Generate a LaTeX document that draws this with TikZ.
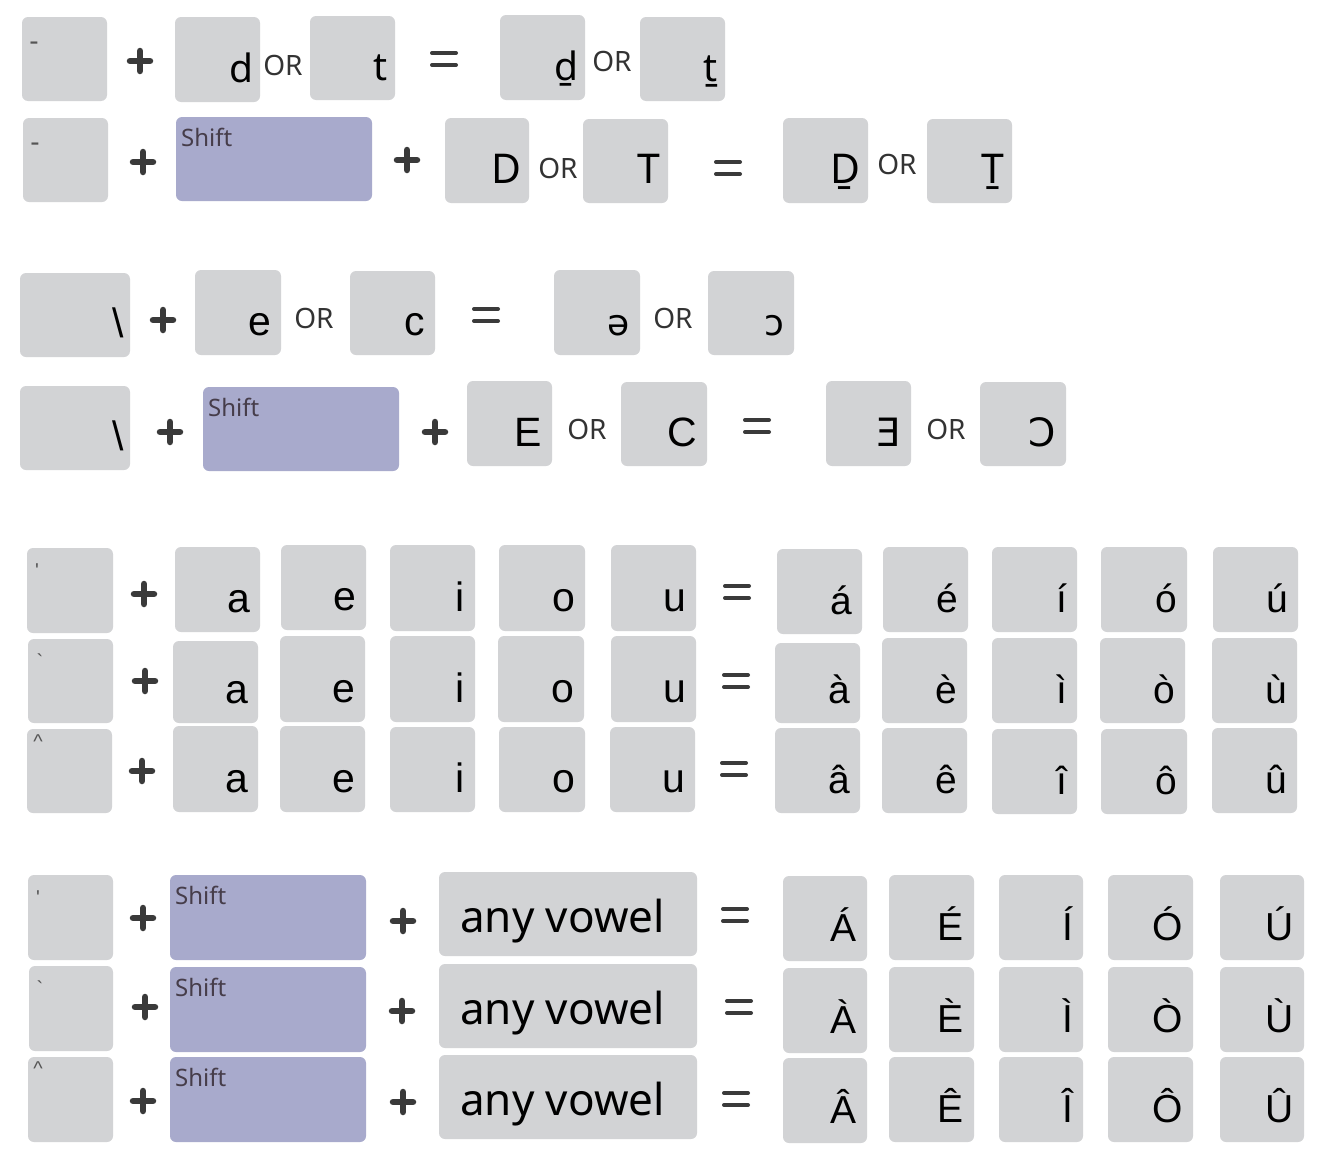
\documentclass[tikz,border=0pt]{standalone}
\usepackage{fontspec}
\setmainfont{Noto Sans}
\newfontfamily\arialf{Liberation Sans}
\newfontfamily\dejavuf{DejaVu Sans}
\definecolor{keygray}{HTML}{D2D3D5}
\definecolor{shiftblue}{HTML}{A8AACC}
\definecolor{symgray}{HTML}{3A3A3A}
\definecolor{ortext}{HTML}{333333}
\definecolor{shifttext}{HTML}{463D4A}
\definecolor{smalltext}{HTML}{555555}

\tikzset{
  keybox/.style={fill=keygray, rounded corners=6pt, inner sep=0pt, outer sep=0pt},
  shiftbox/.style={fill=shiftblue, rounded corners=6pt, inner sep=0pt, outer sep=0pt},
  keylabel/.style={inner sep=0pt, outer sep=0pt, text=black, anchor=base east},
  fA/.style={font=\fontsize{39}{44}\selectfont, xshift=3pt},
  fB/.style={font=\fontsize{41}{46}\selectfont, xshift=2pt},
  fC/.style={font=\arialf\fontsize{41}{46}\selectfont},
  fD/.style={font=\arialf\fontsize{39}{44}\selectfont},
  fE/.style={font=\arialf\fontsize{39}{44}\selectfont},
  fF/.style={font=\dejavuf\fontsize{36}{40}\selectfont},
  fG/.style={font=\dejavuf\fontsize{39}{44}\selectfont},
  ortextstyle/.style={inner sep=0pt, text=ortext, font=\fontsize{28}{32}\selectfont},
  shiftlabel/.style={inner sep=0pt, text=shifttext, anchor=base west, font=\fontsize{24}{28}\selectfont},
  smalllab/.style={inner sep=0pt, text=smalltext, anchor=base, font=\arialf\fontsize{20}{24}\selectfont},
  dashlab/.style={smalllab, font=\arialf\fontsize{28}{32}\selectfont},
  vowelstyle/.style={inner sep=0pt, text=black, anchor=base west, font=\fontsize{44}{50}\selectfont},
  plusline/.style={draw=symgray, line width=6.5pt, line cap=round},
  eqline/.style={draw=symgray, line width=4pt, line cap=round},
}

% key box without main label: name, x1, y1, x2, y2
\newcommand\kbox[5]{%
  \node[keybox, anchor=north west, minimum width={(#4)-(#2)}, minimum height={(#5)-(#3)}] (#1) at (#2,#3) {};%
}
% key with label at bottom right: [style] name, x1, y1, x2, y2, label
\newcommand\kb[7][]{%
  \kbox{#2}{#3}{#4}{#5}{#6}%
  \node[keylabel, #1] (#2t) at ([shift={(-10pt,20pt)}]#2.south east) {#7};%
}
% shift key: name, x1, y1, x2, y2
\newcommand\shiftkey[5]{%
  \node[shiftbox, anchor=north west, minimum width={(#4)-(#2)}, minimum height={(#5)-(#3)}] (#1) at (#2,#3) {};%
  \node[shiftlabel] (#1t) at ([shift={(5pt,-29pt)}]#1.north west) {Shift};%
}
% plus sign: name, x, y
\newcommand\plusat[3]{%
  \coordinate (#1) at (#2,#3);%
  \draw[plusline] ([xshift=-10pt]#1) -- ([xshift=10pt]#1) ([yshift=-10pt]#1) -- ([yshift=10pt]#1);%
}
% equals sign: name, x, y
\newcommand\eqat[3]{%
  \coordinate (#1) at (#2,#3);%
  \draw[eqline] ([shift={(-12pt,6pt)}]#1) -- ([shift={(12pt,6pt)}]#1)
                ([shift={(-12pt,-6pt)}]#1) -- ([shift={(12pt,-6pt)}]#1);%
}
% OR text: name, x, y
\newcommand\orat[3]{\node[ortextstyle] (#1) at (#2,#3) {OR};}

\begin{document}
\begin{tikzpicture}[x=1pt, y=-1pt]
\useasboundingbox (0,0) rectangle (1318,1170);
\fill[white] (0,0) rectangle (1318,1170);

% ---------- Row 1 ----------
\kbox{k1a}{22}{17}{107}{101}
\node[dashlab] (k1al) at (34,50) {-};
\plusat{p1a}{140}{61}
\kb[fA]{k1b}{175}{17}{260}{102}{d}
\orat{o1a}{283}{65}
\kb[fA]{k1c}{310}{16}{395}{100}{t}
\eqat{e1}{444}{59}
\kb[fA]{k1d}{500}{15}{585}{100}{ḏ}
\orat{o1b}{612}{61}
\kb[fA]{k1e}{640}{17}{725}{101}{ṯ}

% ---------- Row 2 ----------
\kbox{k2a}{23}{118}{108}{202}
\node[dashlab] (k2al) at (35,151) {-};
\plusat{p2a}{143}{162}
\shiftkey{s2}{176}{117}{372}{201}
\plusat{p2b}{407}{160}
\kb[fB]{k2b}{445}{118}{529}{203}{D}
\orat{o2a}{558}{168}
\kb[fB]{k2c}{583}{119}{668}{203}{T}
\eqat{e2}{728}{168}
\kb[fB]{k2d}{783}{118}{868}{203}{Ḏ}
\orat{o2b}{897}{164}
\kb[fB]{k2e}{927}{119}{1012}{203}{Ṯ}

% ---------- Row 3 ----------
\kb[fC, xshift=4pt]{k3a}{20}{273}{130}{357}{\textbackslash}
\plusat{p3a}{163}{320}
\kb[fC]{k3b}{195}{270}{281}{355}{e}
\orat{o3a}{314}{318}
\kb[fC]{k3c}{350}{271}{435}{355}{c}
\eqat{e3}{486}{315}
\kb[fF]{k3d}{554}{270}{640}{355}{ə}
\orat{o3b}{673}{318}
\kb[fF]{k3e}{708}{271}{794}{355}{ɔ}

% ---------- Row 4 ----------
\kb[fC, xshift=4pt]{k4a}{20}{386}{130}{470}{\textbackslash}
\plusat{p4a}{170}{432}
\shiftkey{s4}{203}{387}{399}{471}
\plusat{p4b}{435}{432}
\kb[fC]{k4b}{467}{381}{552}{466}{E}
\orat{o4a}{587}{429}
\kb[fC]{k4c}{621}{382}{707}{466}{C}
\eqat{e4}{757}{426}
\kb[fG]{k4d}{826}{381}{911}{466}{Ǝ}
\orat{o4b}{946}{429}
\kb[fG]{k4e}{980}{382}{1066}{466}{Ɔ}

% ---------- Row 5 ----------
\kbox{k5a}{27}{548}{113}{633}
\node[smalllab] (k5al) at (37,577) {\symbol{"27}};
\plusat{p5a}{144}{594}
\kb[fC]{k5b}{175}{547}{260}{632}{a}
\kb[fC]{k5c}{281}{545}{366}{630}{e}
\kb[fC]{k5d}{390}{545}{475}{631}{i}
\kb[fC]{k5e}{499}{545}{585}{631}{o}
\kb[fC]{k5f}{611}{545}{696}{631}{u}
\eqat{e5}{737}{592}
\kb[fD]{k5g}{777}{549}{862}{634}{á}
\kb[fD]{k5h}{883}{547}{968}{632}{é}
\kb[fD]{k5i}{992}{547}{1077}{632}{í}
\kb[fD]{k5j}{1101}{547}{1187}{632}{ó}
\kb[fD]{k5k}{1213}{547}{1298}{632}{ú}

% ---------- Row 6 ----------
\kbox{k6a}{28}{639}{113}{723}
\node[smalllab] (k6al) at (40,668) {\symbol{"60}};
\plusat{p6a}{145}{681}
\kb[fC]{k6b}{173}{641}{258}{723}{a}
\kb[fC]{k6c}{280}{636}{365}{722}{e}
\kb[fC]{k6d}{390}{636}{475}{722}{i}
\kb[fC]{k6e}{498}{636}{584}{722}{o}
\kb[fC]{k6f}{611}{636}{696}{722}{u}
\eqat{e6}{736}{681}
\kb[fD]{k6g}{775}{643}{860}{723}{à}
\kb[fD]{k6h}{882}{638}{967}{723}{è}
\kb[fD]{k6i}{992}{638}{1077}{723}{ì}
\kb[fD]{k6j}{1100}{638}{1185}{723}{ò}
\kb[fD]{k6k}{1212}{638}{1297}{723}{ù}

% ---------- Row 7 ----------
\kbox{k7a}{27}{729}{112}{813}
\node[smalllab] (k7al) at (38,748) {\symbol{"5E}};
\plusat{p7a}{142}{771}
\kb[fC]{k7b}{173}{726}{258}{812}{a}
\kb[fC]{k7c}{280}{726}{365}{812}{e}
\kb[fC]{k7d}{390}{727}{475}{812}{i}
\kb[fC]{k7e}{499}{727}{585}{812}{o}
\kb[fC]{k7f}{610}{727}{695}{812}{u}
\eqat{e7}{734}{769}
\kb[fD]{k7g}{775}{728}{860}{813}{â}
\kb[fD]{k7h}{882}{728}{967}{813}{ê}
\kb[fD]{k7i}{992}{729}{1077}{814}{î}
\kb[fD]{k7j}{1101}{729}{1187}{814}{ô}
\kb[fD]{k7k}{1212}{728}{1297}{813}{û}

% ---------- Row 8 ----------
\kbox{k8a}{28}{875}{113}{960}
\node[smalllab] (k8al) at (38,904) {\symbol{"27}};
\plusat{p8a}{143}{918}
\shiftkey{s8}{170}{875}{366}{960}
\plusat{p8b}{403}{921}
\kbox{k8v}{439}{872}{697}{956}
\node[vowelstyle] (k8vt) at ([shift={(21pt,24pt)}]k8v.south west) {any vowel};
\eqat{e8}{735}{915}
\kb[fE]{k8g}{783}{876}{867}{961}{Á}
\kb[fE]{k8h}{889}{875}{974}{960}{É}
\kb[fE]{k8i}{999}{875}{1083}{960}{Í}
\kb[fE]{k8j}{1108}{875}{1193}{960}{Ó}
\kb[fE]{k8k}{1220}{875}{1304}{960}{Ú}

% ---------- Row 9 ----------
\kbox{k9a}{29}{966}{113}{1051}
\node[smalllab] (k9al) at (40,995) {\symbol{"60}};
\plusat{p9a}{145}{1007}
\shiftkey{s9}{170}{967}{366}{1052}
\plusat{p9b}{402}{1011}
\kbox{k9v}{439}{964}{697}{1048}
\node[vowelstyle] (k9vt) at ([shift={(21pt,24pt)}]k9v.south west) {any vowel};
\eqat{e9}{739}{1007}
\kb[fE]{k9g}{783}{968}{867}{1053}{À}
\kb[fE]{k9h}{889}{967}{974}{1052}{È}
\kb[fE]{k9i}{999}{967}{1083}{1052}{Ì}
\kb[fE]{k9j}{1108}{967}{1193}{1052}{Ò}
\kb[fE]{k9k}{1220}{967}{1304}{1052}{Ù}

% ---------- Row 10 ----------
\kbox{k10a}{28}{1057}{113}{1142}
\node[smalllab] (k10al) at (38,1075) {\symbol{"5E}};
\plusat{p10a}{143}{1101}
\shiftkey{s10}{170}{1057}{366}{1142}
\plusat{p10b}{403}{1102}
\kbox{k10v}{439}{1055}{697}{1139}
\node[vowelstyle] (k10vt) at ([shift={(21pt,24pt)}]k10v.south west) {any vowel};
\eqat{e10}{736}{1099}
\kb[fE]{k10g}{783}{1058}{867}{1143}{Â}
\kb[fE]{k10h}{889}{1057}{974}{1142}{Ê}
\kb[fE]{k10i}{999}{1057}{1083}{1142}{Î}
\kb[fE]{k10j}{1108}{1057}{1193}{1142}{Ô}
\kb[fE]{k10k}{1220}{1057}{1304}{1142}{Û}
\end{tikzpicture}
\end{document}
